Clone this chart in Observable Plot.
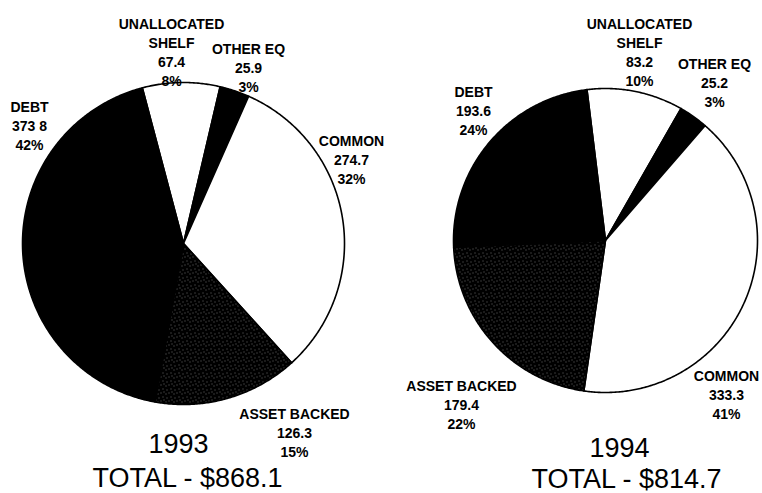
<!DOCTYPE html>
<html><head><meta charset="utf-8">
<script src="https://cdn.jsdelivr.net/npm/d3@7"></script>
<script src="https://cdn.jsdelivr.net/npm/@observablehq/plot@0.6"></script>
<style>
body{margin:0;background:#fff}
#chart svg{display:block}
g[aria-label="slice-labels"] text{letter-spacing:-0.6px}
</style>
</head><body><div id="chart"></div>
<script>
// ---- data ----
const years = ["1993", "1994"];
const categories = ["UNALLOCATED\nSHELF", "OTHER EQ", "COMMON", "ASSET BACKED", "DEBT"];
const values1993 = [67.4, 25.9, 274.7, 126.3, 373.8];
const values1994 = [83.2, 25.2, 333.3, 179.4, 193.6];
const valueLabels1993 = ["67.4", "25.9", "274.7", "126.3", "373 8"];
const valueLabels1994 = ["83.2", "25.2", "333.3", "179.4", "193.6"];
const pctLabels1993 = ["8%", "3%", "32%", "15%", "42%"];
const pctLabels1994 = ["10%", "3%", "41%", "22%", "24%"];
const totalLabels = ["TOTAL - $868.1", "TOTAL - $814.7"];

// ---- layout / style (not data) ----
const W = 762, H = 493;
const fills = ["white", "black", "white", "url(#stipple)", "black"];
const pies = {
  "1993": {cx: 183, cy: 243, r: 161, start: -14.8},
  "1994": {cx: 605, cy: 240, r: 152, start: -7}
};
// label block anchor: [center x, first baseline]
const labelPos = {
  "1993": [[171, 25], [248, 50], [351, 142], [294, 415], [29, 108]],
  "1994": [[639, 25], [714, 65], [726, 377], [461, 387], [473, 93]]
};
const titlePos = {
  "1993": {year: [178, 452], total: [187, 486]},
  "1994": {year: [619, 456], total: [626, 487]}
};

const series = {
  "1993": {values: values1993, vl: valueLabels1993, pl: pctLabels1993, total: totalLabels[0]},
  "1994": {values: values1994, vl: valueLabels1994, pl: pctLabels1994, total: totalLabels[1]}
};

// ---- build slice outlines ----
const slicePts = [];
const labels = [];
const titles = [];
years.forEach(yr => {
  const p = pies[yr], s = series[yr];
  const rows = categories.map((c, i) => ({cat: c, value: s.values[i], i}));
  const a0 = p.start * Math.PI / 180;
  const arcs = d3.pie().sort(null).value(d => d.value).startAngle(a0).endAngle(a0 + 2 * Math.PI)(rows);
  arcs.forEach(a => {
    const key = yr + "-" + a.data.i;
    const fill = fills[a.data.i];
    slicePts.push({key, fill, x: p.cx, y: p.cy});
    const n = Math.max(2, Math.ceil((a.endAngle - a.startAngle) / (Math.PI / 360)));
    for (let k = 0; k <= n; k++) {
      const t = a.startAngle + (a.endAngle - a.startAngle) * k / n;
      slicePts.push({key, fill, x: p.cx + p.r * Math.sin(t), y: p.cy - p.r * Math.cos(t)});
    }
    slicePts.push({key, fill, x: p.cx, y: p.cy});
  });
  categories.forEach((c, i) => {
    const [lx, ly] = labelPos[yr][i];
    labels.push({x: lx, y: ly - 10, text: c + "\n" + s.vl[i] + "\n" + s.pl[i]});
  });
  titles.push({x: titlePos[yr].year[0], y: titlePos[yr].year[1] - 19, text: yr});
  titles.push({x: titlePos[yr].total[0], y: titlePos[yr].total[1] - 19, text: s.total});
});

const defsMark = () => {
  const ns = "http://www.w3.org/2000/svg";
  const defs = document.createElementNS(ns, "defs");
  const pat = document.createElementNS(ns, "pattern");
  pat.setAttribute("id", "stipple");
  pat.setAttribute("patternUnits", "userSpaceOnUse");
  pat.setAttribute("width", 8);
  pat.setAttribute("height", 8);
  const bg = document.createElementNS(ns, "rect");
  bg.setAttribute("width", 8); bg.setAttribute("height", 8); bg.setAttribute("fill", "#000");
  pat.appendChild(bg);
  [[0, 0], [5, 1], [2, 4], [6, 5], [3, 7]].forEach(([x, y]) => {
    const r = document.createElementNS(ns, "rect");
    r.setAttribute("x", x); r.setAttribute("y", y);
    r.setAttribute("width", 1); r.setAttribute("height", 1);
    r.setAttribute("fill", "#6a6a6a");
    pat.appendChild(r);
  });
  defs.appendChild(pat);
  return defs;
};

const chart = Plot.plot({
  width: W, height: H,
  margin: 0,
  x: {domain: [0, W], range: [0, W], axis: null},
  y: {domain: [0, H], range: [0, H], axis: null},
  color: {type: "identity"},
  style: {fontFamily: "'Liberation Sans', Arial, sans-serif", background: "white", color: "black"},
  marks: [
    defsMark,
    Plot.line(slicePts, {x: "x", y: "y", z: "key", fill: "fill", stroke: "black", strokeWidth: 1.6, strokeLinejoin: "round", curve: "linear"}),
    Plot.text(labels, {x: "x", y: "y", text: "text", fontSize: 14, fontWeight: "bold", lineAnchor: "top", lineHeight: 1.36, textAnchor: "middle", fill: "black", ariaLabel: "slice-labels"}),
    Plot.text(titles, {x: "x", y: "y", text: "text", fontSize: 27, lineAnchor: "top", textAnchor: "middle", fill: "black", ariaLabel: "titles"})
  ]
});
document.getElementById("chart").appendChild(chart);
</script>
</body></html>
